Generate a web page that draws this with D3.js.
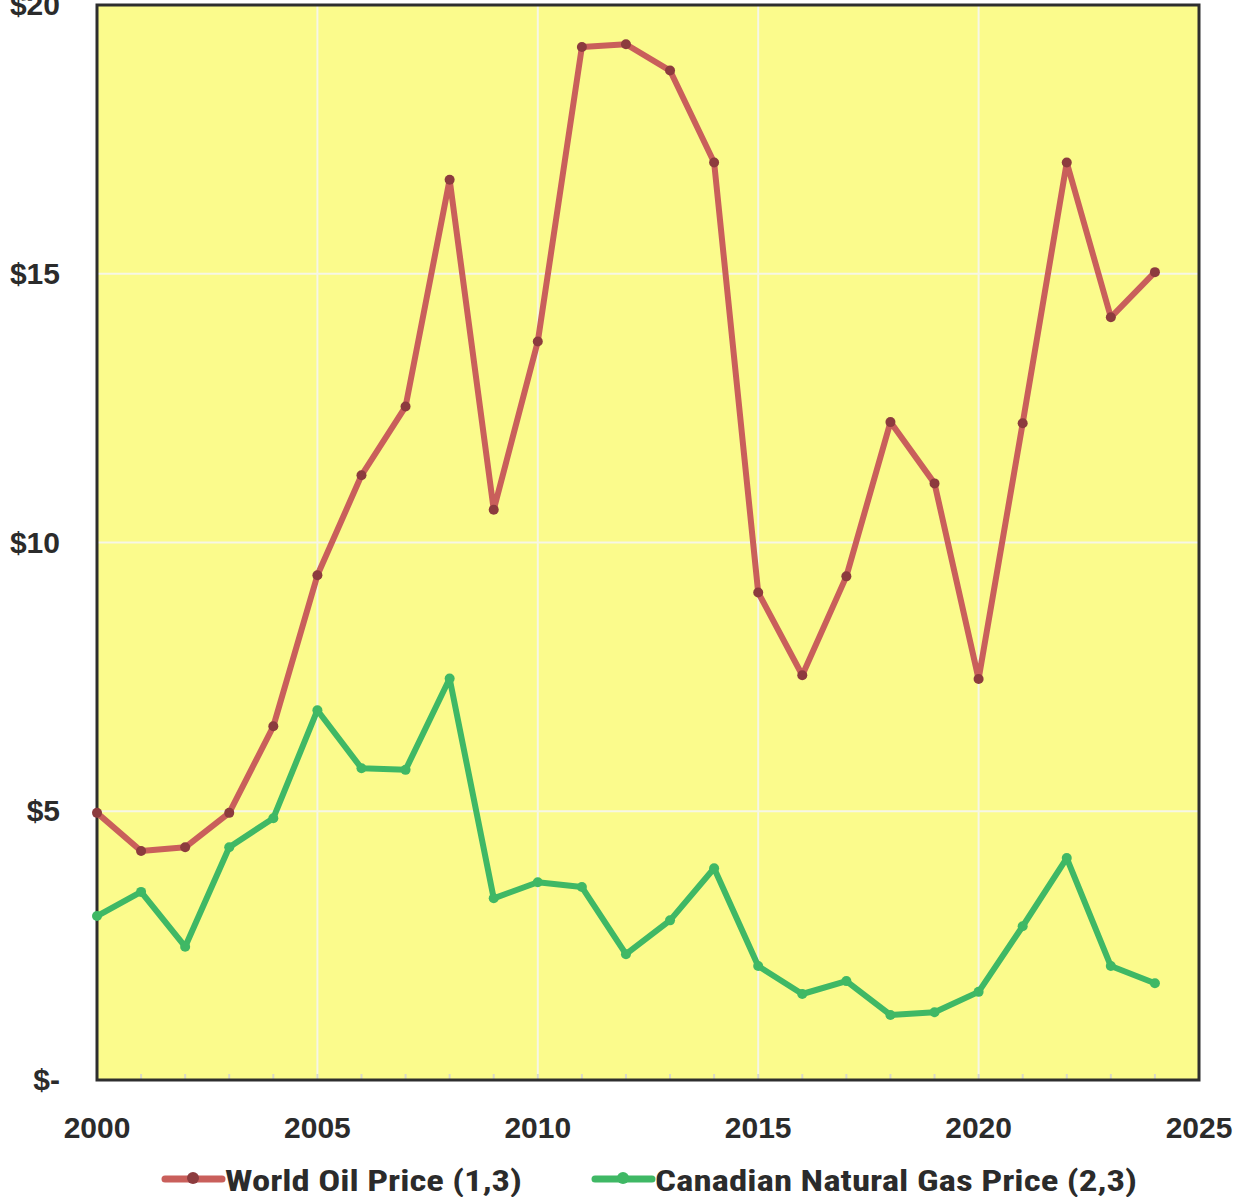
<!DOCTYPE html>
<html>
<head>
<meta charset="utf-8">
<script src="https://cdn.jsdelivr.net/npm/d3@7"></script>
<style>
  html, body { margin: 0; padding: 0; background: #ffffff; }
  svg { display: block; }
  .tick-label { font-family: "Liberation Sans", Arial, sans-serif; font-weight: bold; font-size: 30px; fill: #2b2b2b; }
  .legend-label { font-family: "Liberation Sans Narrow", "Roboto Condensed", "DejaVu Sans Condensed", "Liberation Sans", sans-serif; font-weight: bold; font-size: 29px; fill: #2b2b2b; }
</style>
</head>
<body>
<div id="chart"></div>
<script>
// data
const years = d3.range(2000, 2025);
const oilPrice = [4.97, 4.26, 4.33, 4.97, 6.58, 9.39, 11.25, 12.53, 16.75, 10.61,
  13.74, 19.22, 19.27, 18.78, 17.07, 9.07, 7.53, 9.37, 12.24, 11.10,
  7.46, 12.22, 17.07, 14.19, 15.03];
const gasPrice = [3.05, 3.50, 2.48, 4.33, 4.87, 6.88, 5.80, 5.77, 7.47, 3.38,
  3.68, 3.59, 2.34, 2.97, 3.94, 2.12, 1.60, 1.84, 1.21, 1.26,
  1.64, 2.86, 4.13, 2.12, 1.80];
const xTicks = [2000, 2005, 2010, 2015, 2020, 2025];
const yTicks = [0, 5, 10, 15, 20];
const yTickLabels = ["$-", "$5", "$10", "$15", "$20"];
const seriesNames = ["World Oil Price (1,3)", "Canadian Natural Gas Price (2,3)"];

const width = 1238, height = 1197;
const plot = { left: 97, right: 1199, top: 5, bottom: 1080 };

const x = d3.scaleLinear().domain([2000, 2025]).range([plot.left, plot.right]);
const y = d3.scaleLinear().domain([0, 20]).range([plot.bottom, plot.top]);

const svg = d3.select("#chart").append("svg")
  .attr("width", width)
  .attr("height", height);

// plot background
svg.append("rect")
  .attr("x", plot.left).attr("y", plot.top)
  .attr("width", plot.right - plot.left)
  .attr("height", plot.bottom - plot.top)
  .attr("fill", "#fbfb8c");

// gridlines
const grid = svg.append("g").attr("class", "grid");
grid.selectAll("line.v")
  .data(xTicks.slice(1, -1))
  .join("line")
  .attr("class", "v")
  .attr("x1", d => x(d)).attr("x2", d => x(d))
  .attr("y1", plot.top).attr("y2", plot.bottom)
  .attr("stroke", "#f6f6e6").attr("stroke-width", 2);
grid.selectAll("line.h")
  .data(yTicks.slice(1, -1))
  .join("line")
  .attr("class", "h")
  .attr("x1", plot.left).attr("x2", plot.right)
  .attr("y1", d => y(d)).attr("y2", d => y(d))
  .attr("stroke", "#f6f6e6").attr("stroke-width", 2);

// small year ticks along the bottom
svg.append("g")
  .selectAll("line")
  .data(d3.range(2001, 2025))
  .join("line")
  .attr("x1", d => x(d)).attr("x2", d => x(d))
  .attr("y1", plot.bottom - 6).attr("y2", plot.bottom)
  .attr("stroke", "#d8d8c8").attr("stroke-width", 2);

// frame
svg.append("rect")
  .attr("x", plot.left).attr("y", plot.top)
  .attr("width", plot.right - plot.left)
  .attr("height", plot.bottom - plot.top)
  .attr("fill", "none")
  .attr("stroke", "#2e2e2e")
  .attr("stroke-width", 3);

// axis labels
svg.append("g")
  .selectAll("text")
  .data(yTicks)
  .join("text")
  .attr("class", "tick-label")
  .attr("x", 60)
  .attr("y", d => y(d) + 10)
  .attr("text-anchor", "end")
  .text((d, i) => yTickLabels[i]);

svg.append("g")
  .selectAll("text")
  .data(xTicks)
  .join("text")
  .attr("class", "tick-label")
  .attr("x", d => x(d))
  .attr("y", 1138)
  .attr("text-anchor", "middle")
  .text(d => d);

// series
const series = [
  { name: seriesNames[0], values: oilPrice, line: "#c95f5b", marker: "#8c3b3e" },
  { name: seriesNames[1], values: gasPrice, line: "#3fb865", marker: "#3fb865" }
];

const line = d3.line()
  .x((d, i) => x(years[i]))
  .y(d => y(d));

series.forEach(s => {
  const g = svg.append("g");
  g.append("path")
    .datum(s.values)
    .attr("d", line)
    .attr("fill", "none")
    .attr("stroke", s.line)
    .attr("stroke-width", 6)
    .attr("stroke-linejoin", "round")
    .attr("stroke-linecap", "round");
  g.selectAll("circle")
    .data(s.values)
    .join("circle")
    .attr("cx", (d, i) => x(years[i]))
    .attr("cy", d => y(d))
    .attr("r", 5)
    .attr("fill", s.marker);
});

// legend
const legendItems = [
  { x0: 165, textX: 225, textLen: 297 },
  { x0: 595, textX: 655, textLen: 482 }
];
legendItems.forEach((item, i) => {
  const s = series[i];
  const g = svg.append("g");
  g.append("line")
    .attr("x1", item.x0).attr("x2", item.x0 + 57)
    .attr("y1", 1179).attr("y2", 1179)
    .attr("stroke", s.line).attr("stroke-width", 7)
    .attr("stroke-linecap", "round");
  g.append("circle")
    .attr("cx", item.x0 + 28).attr("cy", 1178)
    .attr("r", 6).attr("fill", s.marker);
  g.append("text")
    .attr("class", "legend-label")
    .attr("x", item.textX)
    .attr("y", 1191)
    .attr("textLength", item.textLen)
    .attr("lengthAdjust", "spacingAndGlyphs")
    .text(s.name);
});
</script>
</body>
</html>
